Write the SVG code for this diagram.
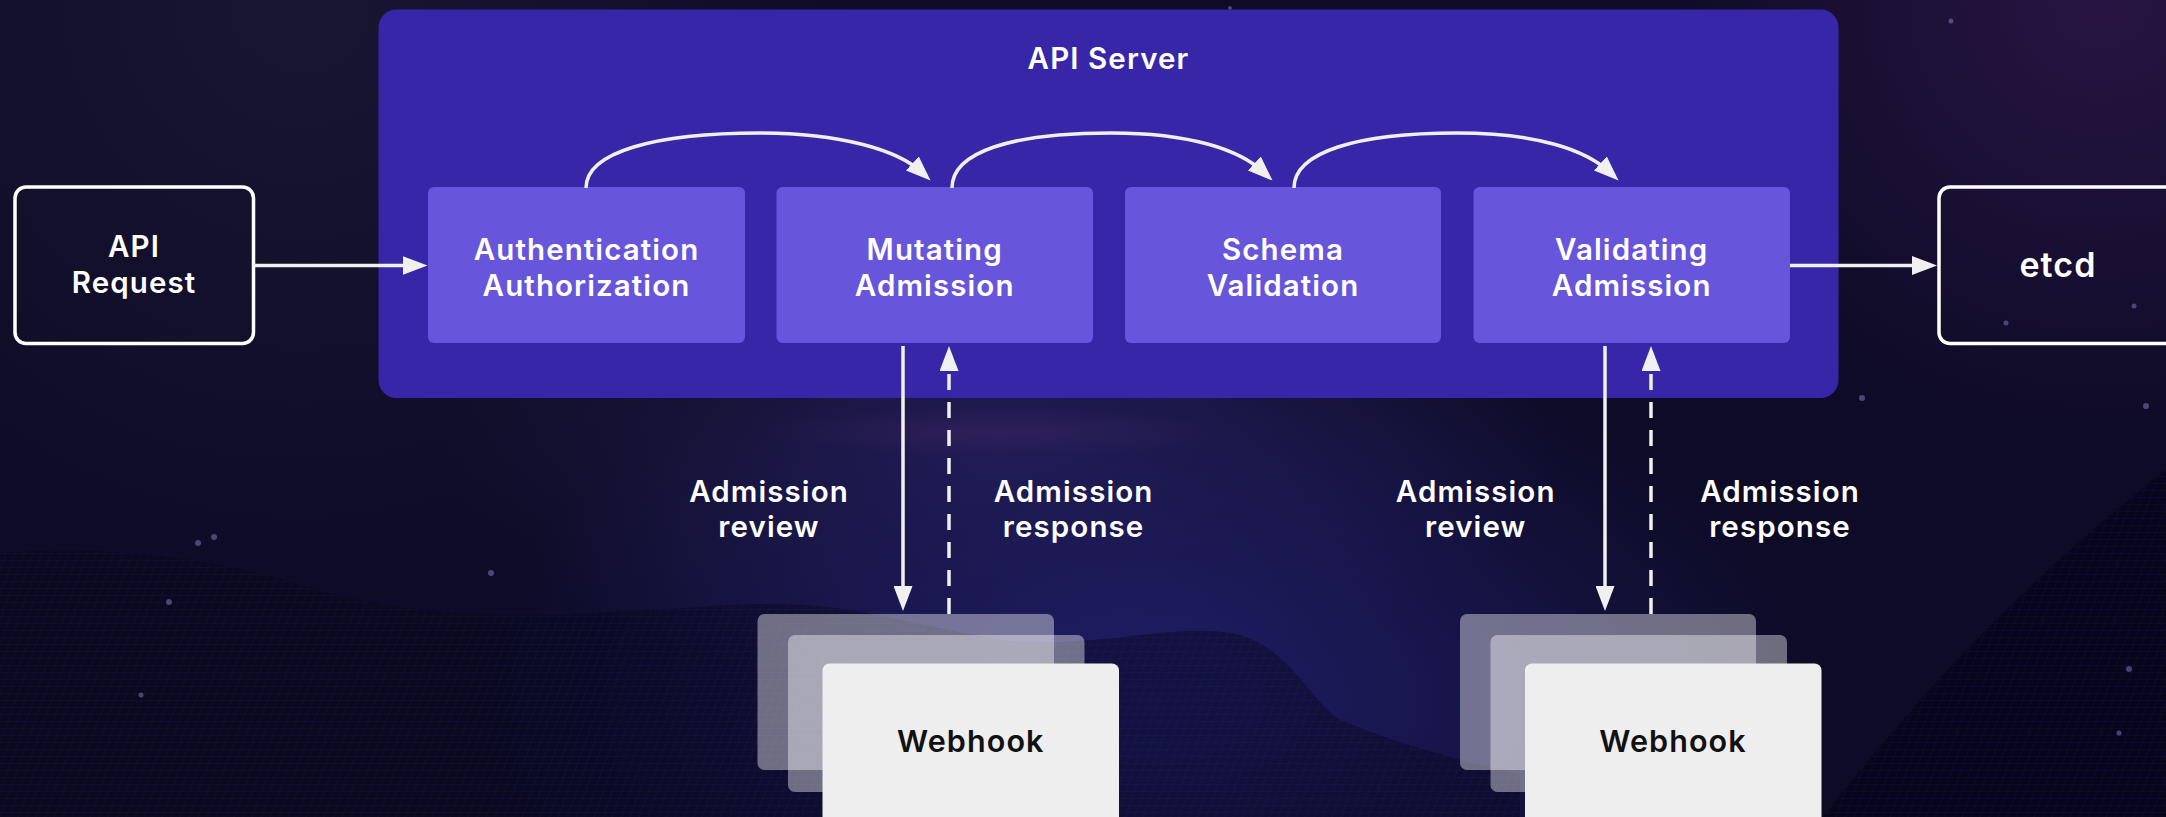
<svg xmlns="http://www.w3.org/2000/svg" width="2166" height="817" viewBox="0 0 2166 817">
  <defs>
    <style>
      .lbl { font-family: Inter, "Noto Sans", "Liberation Sans", sans-serif; font-weight: 600; font-size: 29.5px; letter-spacing: 1.1px; fill: #ffffff; text-anchor: middle; }
      .big { font-size: 34px; }
      .dark { fill: #111111; font-size: 30.5px; }
      .stage { fill: #6756db; }
      .outline { fill: none; stroke: #ffffff; stroke-width: 3.5; }
      .wire { fill: none; stroke: #f0f0f0; stroke-width: 3.5; }
      .dash { stroke-dasharray: 16 12; }
      .ghost { fill: #ffffff; fill-opacity: 0.4; }
      .card { fill: #eeeeee; }
      .star { fill: #9a8fd0; fill-opacity: 0.45; }
    </style>
    <marker id="head" viewBox="0 0 25 19" refX="13" refY="9.5" markerWidth="25" markerHeight="19" markerUnits="userSpaceOnUse" orient="auto">
      <path d="M0,0 L25,9.5 L0,19 Z" fill="#f0f0f0"/>
    </marker>
    <radialGradient id="glowPurple" cx="2100" cy="0" r="460" gradientUnits="userSpaceOnUse">
      <stop offset="0" stop-color="#2c1648" stop-opacity="0.85"/>
      <stop offset="1" stop-color="#2c1648" stop-opacity="0"/>
    </radialGradient>
    <radialGradient id="glowBlue" cx="1150" cy="700" r="680" gradientUnits="userSpaceOnUse" gradientTransform="translate(1150 700) scale(1 0.55) translate(-1150 -700)">
      <stop offset="0" stop-color="#1f1e68" stop-opacity="1"/>
      <stop offset="1" stop-color="#1f1e68" stop-opacity="0"/>
    </radialGradient>
    <radialGradient id="glowMid" cx="1000" cy="440" r="560" gradientUnits="userSpaceOnUse" gradientTransform="translate(1000 440) scale(1 0.45) translate(-1000 -440)">
      <stop offset="0" stop-color="#241d52" stop-opacity="0.9"/>
      <stop offset="1" stop-color="#241d52" stop-opacity="0"/>
    </radialGradient>
    <radialGradient id="glowTop" cx="300" cy="0" r="600" gradientUnits="userSpaceOnUse">
      <stop offset="0" stop-color="#1a1734" stop-opacity="0.9"/>
      <stop offset="1" stop-color="#1a1734" stop-opacity="0"/>
    </radialGradient>
    <radialGradient id="haze" cx="1000" cy="432" r="240" gradientUnits="userSpaceOnUse" gradientTransform="translate(1000 432) scale(1 0.1) translate(-1000 -432)">
      <stop offset="0" stop-color="#4d2a6a" stop-opacity="0.3"/>
      <stop offset="1" stop-color="#4d2a6a" stop-opacity="0"/>
    </radialGradient>
    <pattern id="mesh" width="9" height="7" patternUnits="userSpaceOnUse" patternTransform="skewX(-20)">
      <path d="M0,0 H9 M0,0 V7" fill="none" stroke="#34348a" stroke-width="0.7" stroke-opacity="0.3"/>
    </pattern>
  </defs>

  <!-- backdrop: night sky with wireframe hills -->
  <g id="backdrop">
    <rect x="0" y="0" width="2166" height="817" fill="#0d0b25"/>
    <rect x="0" y="0" width="2166" height="817" fill="url(#glowTop)"/>
    <rect x="0" y="0" width="2166" height="817" fill="url(#glowMid)"/>
    <rect x="0" y="0" width="2166" height="817" fill="url(#glowBlue)"/>
    <rect x="0" y="0" width="2166" height="817" fill="url(#glowPurple)"/>
    <rect x="0" y="400" width="2166" height="70" fill="url(#haze)"/>
    <path d="M0,553 C120,545 220,560 300,585 C380,610 450,615 560,615 L700,607 C780,600 840,605 900,620 L1000,640 C1100,650 1180,620 1240,635 C1290,650 1310,700 1340,720 C1400,745 1460,760 1520,775 L1520,817 L0,817 Z" fill="#07061a" fill-opacity="0.45"/>
    <path d="M0,553 C120,545 220,560 300,585 C380,610 450,615 560,615 L700,607 C780,600 840,605 900,620 L1000,640 C1100,650 1180,620 1240,635 C1290,650 1310,700 1340,720 C1400,745 1460,760 1520,775 L1520,817 L0,817 Z" fill="url(#mesh)"/>
    <path d="M1823,817 C1900,720 2000,600 2166,470 L2166,817 Z" fill="#05041a" fill-opacity="0.7"/>
    <path d="M1823,817 C1900,720 2000,600 2166,470 L2166,817 Z" fill="url(#mesh)"/>
    <circle class="star" cx="1862" cy="398" r="3"/>
    <circle class="star" cx="2146" cy="406" r="3"/>
    <circle class="star" cx="2129" cy="669" r="3"/>
    <circle class="star" cx="2119" cy="733" r="2.5"/>
    <circle class="star" cx="1951" cy="21" r="2.5"/>
    <circle class="star" cx="2134" cy="306" r="2.5"/>
    <circle class="star" cx="2006" cy="323" r="2.5"/>
    <circle class="star" cx="198" cy="543" r="3"/>
    <circle class="star" cx="214" cy="537" r="3"/>
    <circle class="star" cx="169" cy="602" r="3"/>
    <circle class="star" cx="491" cy="573" r="3"/>
    <circle class="star" cx="141" cy="695" r="2.5"/>
    <circle class="star" cx="1230" cy="8" r="2"/>
  </g>

  <!-- API server frame -->
  <g id="api-server">
    <rect x="378.5" y="9.5" width="1460" height="388.5" rx="18" fill="#3727a8"/>
    <text class="lbl" x="1108.5" y="69">API Server</text>
  </g>

  <g id="api-request">
    <rect class="outline" x="15" y="187" width="238.5" height="156.5" rx="11"/>
    <text class="lbl" x="134" y="257">API</text>
    <text class="lbl" x="134" y="293">Request</text>
  </g>

  <g id="authn-authz">
    <rect class="stage" x="428" y="187" width="317" height="156" rx="6"/>
    <text class="lbl" x="586.5" y="260">Authentication</text>
    <text class="lbl" x="586.5" y="296">Authorization</text>
  </g>

  <g id="mutating-admission">
    <rect class="stage" x="776.5" y="187" width="316.5" height="156" rx="6"/>
    <text class="lbl" x="934.7" y="260">Mutating</text>
    <text class="lbl" x="934.7" y="296">Admission</text>
  </g>

  <g id="schema-validation">
    <rect class="stage" x="1125" y="187" width="316" height="156" rx="6"/>
    <text class="lbl" x="1283" y="260">Schema</text>
    <text class="lbl" x="1283" y="296">Validation</text>
  </g>

  <g id="validating-admission">
    <rect class="stage" x="1473.5" y="187" width="316.5" height="156" rx="6"/>
    <text class="lbl" x="1631.7" y="260">Validating</text>
    <text class="lbl" x="1631.7" y="296">Admission</text>
  </g>

  <g id="etcd">
    <rect class="outline" x="1939" y="187" width="239" height="156.5" rx="11"/>
    <text class="lbl big" x="2058" y="277">etcd</text>
  </g>

  <g id="webhook-mutating">
    <rect class="ghost" x="757.5" y="614" width="296.5" height="156" rx="7"/>
    <rect class="ghost" x="788" y="635" width="296.5" height="157" rx="7"/>
    <rect class="card" x="822.5" y="663.5" width="296.5" height="170" rx="7"/>
    <text class="lbl dark" x="970.8" y="752">Webhook</text>
  </g>

  <g id="webhook-validating">
    <rect class="ghost" x="1460" y="614" width="296" height="156" rx="7"/>
    <rect class="ghost" x="1490.5" y="635" width="296.5" height="157" rx="7"/>
    <rect class="card" x="1525" y="663.5" width="296.5" height="170" rx="7"/>
    <text class="lbl dark" x="1673" y="752">Webhook</text>
  </g>

  <g id="flow-labels">
    <text class="lbl" x="769" y="501.7">Admission</text>
    <text class="lbl" x="769" y="537">review</text>
    <text class="lbl" x="1073.6" y="501.7">Admission</text>
    <text class="lbl" x="1073.6" y="537">response</text>
    <text class="lbl" x="1475.7" y="501.7">Admission</text>
    <text class="lbl" x="1475.7" y="537">review</text>
    <text class="lbl" x="1780" y="501.7">Admission</text>
    <text class="lbl" x="1780" y="537">response</text>
  </g>

  <g id="connectors">
    <path class="wire" d="M253.5,265.5 L415.5,265.5" marker-end="url(#head)"/>
    <path class="wire" d="M586,188 C586,152 655,133 760,133 C840,133 898,150 921.8,172.4" marker-end="url(#head)"/>
    <path class="wire" d="M952,188 C952,152 1011,133 1111,133 C1191,133 1240,150 1263.8,172.4" marker-end="url(#head)"/>
    <path class="wire" d="M1294,188 C1294,152 1357,133 1457,133 C1537,133 1586,150 1609.8,172.4" marker-end="url(#head)"/>
    <path class="wire" d="M1790,265.5 L1925,265.5" marker-end="url(#head)"/>
    <path class="wire" d="M903,346 L903,599" marker-end="url(#head)"/>
    <path class="wire dash" d="M949,614 L949,358" marker-end="url(#head)"/>
    <path class="wire" d="M1605,346 L1605,599" marker-end="url(#head)"/>
    <path class="wire dash" d="M1651,614 L1651,358" marker-end="url(#head)"/>
  </g>
</svg>
